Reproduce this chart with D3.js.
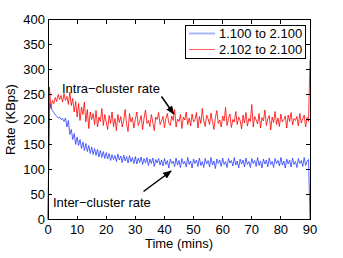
<!DOCTYPE html>
<html><head><meta charset="utf-8">
<script src="https://cdn.jsdelivr.net/npm/d3@7"></script>
<style>
body{margin:0;background:#fff;}
text{font-family:"Liberation Sans",Arial,sans-serif;}
</style></head>
<body><svg id="c" width="343" height="258"></svg>
<script>
// time step 0.5 min, t = 0..90
const timeStep = 0.5;
const seriesNames = ["1.100 to 2.100", "2.102 to 2.100"];
const interRate = [
0,232,225,218,214,210,206,203,205,200,
202,196,203,185,198,170,180,160,172,150,
165,148,160,142,155,138,152,136,148,132,
145,130,142,128,140,125,138,124,136,122,
134,121,132,118,130,120,128,116,131,119,
127,114,129,117,126,113,128,115,124,112,
126,111,123,114,125,110,122,113,124,108,
121,112,123,106,120,113,122,109,119,107,
122,110,118,103,121,112,117,106,123,109,
118,104,122,111,116,105,124,110,117,103,
121,112,119,106,123,108,116,104,122,111,
118,105,124,109,117,102,121,112,119,106,
123,110,116,104,122,113,118,107,124,109,
117,103,121,111,119,105,123,110,116,104,
122,112,118,106,124,108,117,103,121,111,
119,105,123,110,116,104,122,112,118,107,
124,109,117,103,121,111,119,105,123,110,
116,104,122,112,118,106,124,108,117,120,0];
const intraRate = [
0,265,222,238,232,244,236,250,240,248,
235,252,238,246,230,255,228,242,215,236,
205,232,198,225,210,235,195,220,182,215,
200,212,190,218,185,205,196,222,188,210,
195,180,208,192,215,186,202,178,210,194,
206,185,198,220,190,176,212,195,204,183,
200,215,188,196,208,180,203,219,192,198,
186,210,195,178,205,200,214,190,197,206,
184,202,212,193,188,207,198,220,185,201,
196,210,182,205,199,215,190,203,187,211,
195,200,214,183,206,192,222,197,186,209,
201,190,213,196,180,204,218,192,199,185,
207,197,224,188,202,211,184,200,195,216,
190,205,198,181,209,193,214,187,202,196,
230,185,206,199,191,212,183,204,197,219,
188,201,208,179,205,194,216,190,203,186,
211,195,200,207,183,209,196,214,189,202,
198,206,187,212,193,201,209,185,204,196,320];
const xTicks = [0,10,20,30,40,50,60,70,80,90];
const yTicks = [0,50,100,150,200,250,300,350,400];
// annotations in data units
const annotations = [
  {text:"Intra\u2212cluster rate", tx:4.8, ty:254, x1:39.0, y1:246, x2:43.2, y2:211},
  {text:"Inter\u2212cluster rate", tx:1.7, ty:26, x1:32.8, y1:56, x2:42.3, y2:97}
];

const svg = d3.select("#c");
const L=48, R=310, T=19.5, B=219.5;
const x = d3.scaleLinear().domain([0,90]).range([L,R]);
const y = d3.scaleLinear().domain([0,400]).range([B,T]);
const fs = 13;

// lines
const line = d3.line().x((d,i)=>x(i*timeStep)).y(d=>y(d));
svg.append("path").datum(intraRate).attr("d",line).attr("fill","none")
  .attr("stroke","#ff0000").attr("stroke-width",0.8);
svg.append("path").datum(interRate).attr("d",line).attr("fill","none")
  .attr("stroke","#2a3cff").attr("stroke-width",0.8);

// axes (matlab style, ticks inside, box)
const g = svg.append("g").attr("shape-rendering","crispEdges");
g.append("rect").attr("x",L).attr("y",T).attr("width",R-L).attr("height",B-T)
  .attr("fill","none").attr("stroke","#000").attr("stroke-width",1);
const tl = 4;
xTicks.forEach(t=>{
  g.append("line").attr("x1",x(t)).attr("x2",x(t)).attr("y1",B).attr("y2",B-tl).attr("stroke","#000");
  g.append("line").attr("x1",x(t)).attr("x2",x(t)).attr("y1",T).attr("y2",T+tl).attr("stroke","#000");
});
yTicks.forEach(t=>{
  g.append("line").attr("x1",L).attr("x2",L+tl).attr("y1",y(t)).attr("y2",y(t)).attr("stroke","#000");
  g.append("line").attr("x1",R).attr("x2",R-tl).attr("y1",y(t)).attr("y2",y(t)).attr("stroke","#000");
});
svg.selectAll(".xt").data(xTicks).enter().append("text")
  .attr("x",d=>x(d)).attr("y",234).attr("text-anchor","middle").attr("font-size",fs).text(d=>d);
svg.selectAll(".yt").data(yTicks).enter().append("text")
  .attr("x",L-3).attr("y",d=>y(d)+4.5).attr("text-anchor","end").attr("font-size",fs).text(d=>d);
svg.append("text").attr("x",(L+R)/2).attr("y",248).attr("text-anchor","middle")
  .attr("font-size",fs).text("Time (mins)");
svg.append("text").attr("transform",`translate(15,${(T+B)/2}) rotate(-90)`)
  .attr("text-anchor","middle").attr("font-size",fs).text("Rate (KBps)");

// annotations
const defs = svg.append("defs");
defs.append("marker").attr("id","ah").attr("viewBox","0 0 10 8").attr("refX",9).attr("refY",4)
  .attr("markerWidth",9).attr("markerHeight",7).attr("markerUnits","userSpaceOnUse").attr("orient","auto")
  .append("path").attr("d","M0,0 L10,4 L0,8 z").attr("fill","#000");
annotations.forEach(a=>{
  svg.append("text").attr("x",x(a.tx)).attr("y",y(a.ty)).attr("font-size",fs).text(a.text);
  svg.append("line").attr("x1",x(a.x1)).attr("y1",y(a.y1)).attr("x2",x(a.x2)).attr("y2",y(a.y2))
    .attr("stroke","#000").attr("stroke-width",1.5).attr("marker-end","url(#ah)");
});

// legend
const lg = svg.append("g");
lg.append("rect").attr("x",185.5).attr("y",25.5).attr("width",120).attr("height",33)
  .attr("fill","#fff").attr("stroke","#000").attr("stroke-width",1).attr("shape-rendering","crispEdges");
const legColors = ["#a8b4ff","#ff5a5a"], legW=[2,1];
seriesNames.forEach((n,i)=>{
  const yy = 33.5 + i*16;
  lg.append("line").attr("x1",189).attr("x2",215).attr("y1",yy).attr("y2",yy)
    .attr("stroke",legColors[i]).attr("stroke-width",legW[i]);
  lg.append("text").attr("x",219).attr("y",yy+4.5).attr("font-size",fs).text(n);
});
</script></body></html>
